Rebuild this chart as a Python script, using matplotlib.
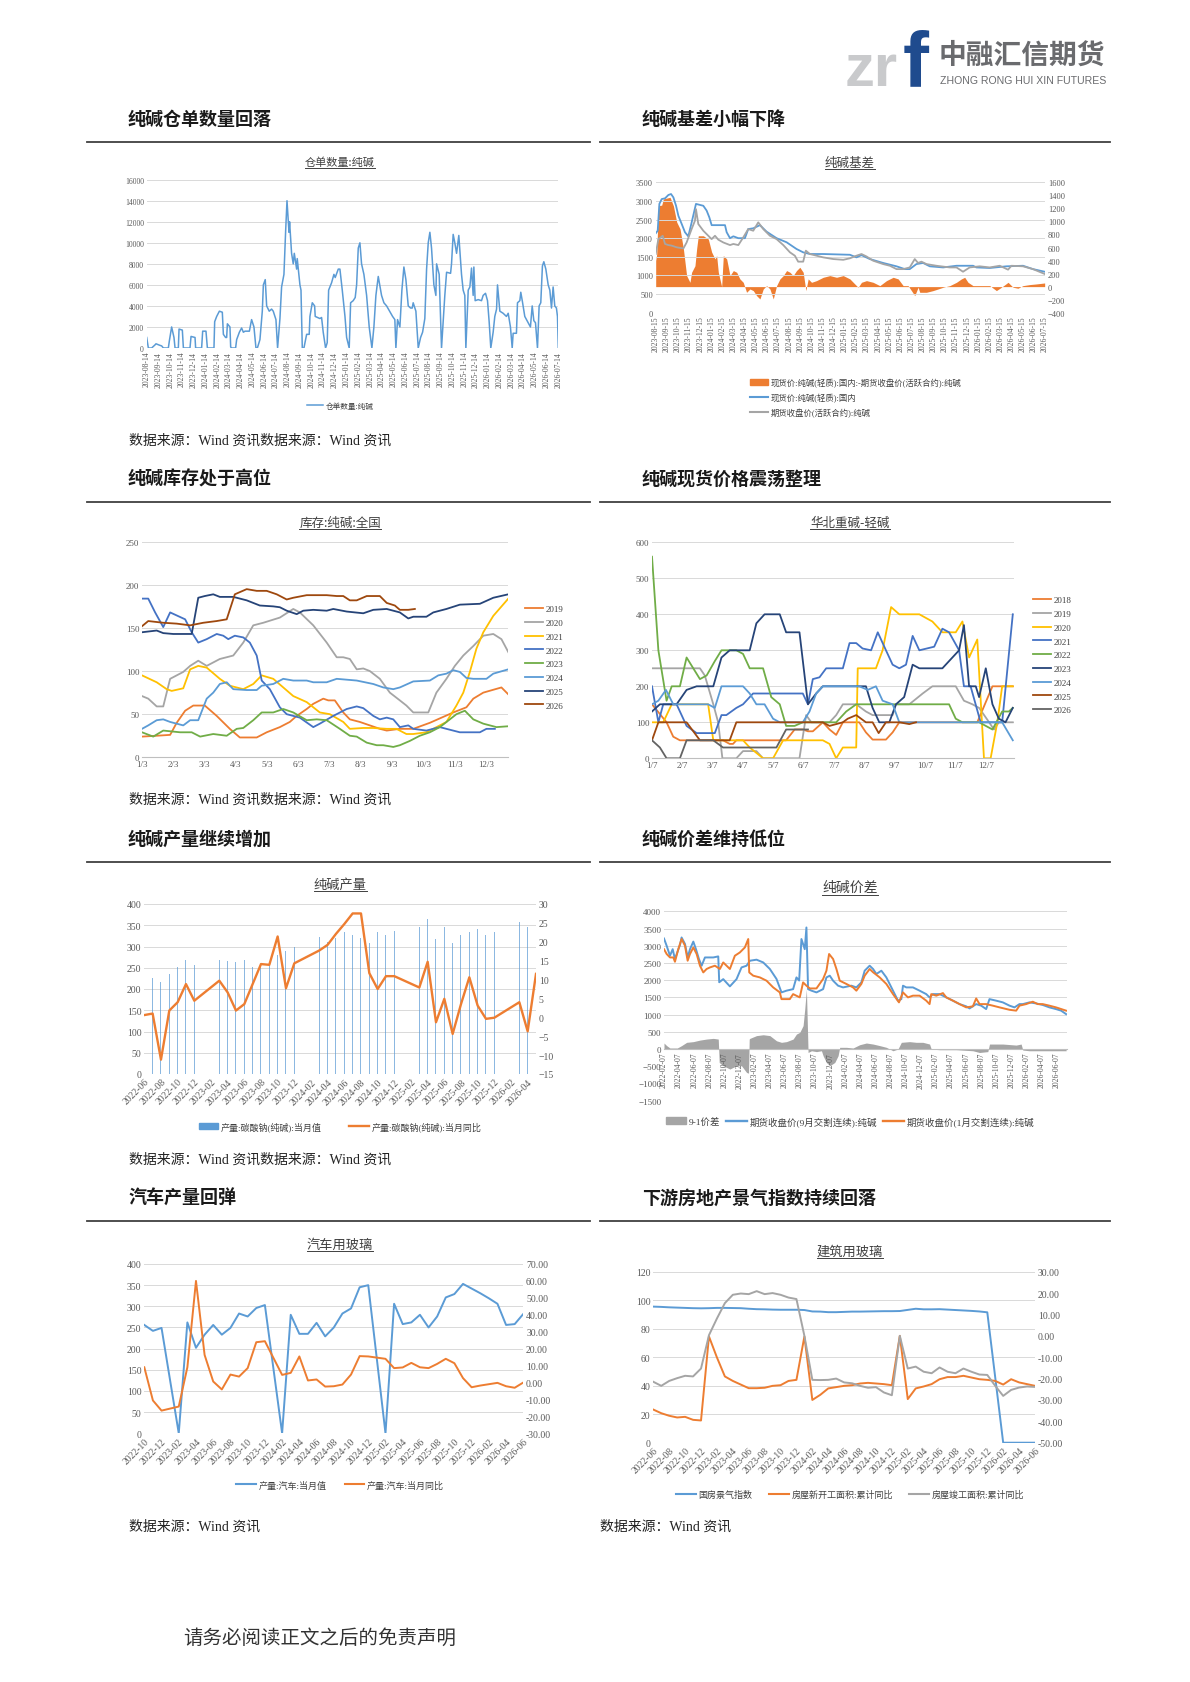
import numpy as np
import matplotlib
matplotlib.use('Agg')
import matplotlib.pyplot as plt
from matplotlib.lines import Line2D
from matplotlib.patches import Patch
import pandas as pd

plt.rcParams['font.family'] = ['Liberation Serif', 'Noto Sans CJK SC']
CJK = ['Noto Sans CJK SC', 'DejaVu Sans']

BLUE = '#5B9BD5'
ORANGE = '#ED7D31'
GRAY = '#A5A5A5'
YELLOW = '#FFC000'
BLUE2 = '#4472C4'
GREEN = '#70AD47'
NAVY = '#264478'
BROWN = '#9E480E'
DGRAY = '#636363'
TICK = '#595959'
GRID = '#D9D9D9'
nan = np.nan

# ---- chart 1: warehouse receipts (x = months after 2023-08-14) ----
wr_pts = [
    (0.00, 1000), (0.14, 0), (0.42, 0), (0.71, 300), (0.79, 400), (1.13, 250), (1.27, 200), (1.42, 0),
    (1.84, 0), (1.93, 700), (2.12, 2000), (2.32, 1000), (2.41, 0), (2.69, 0), (2.75, 1800), (3.03, 1700),
    (3.12, 0), (3.68, 0), (3.77, 1100), (4.11, 1000), (4.16, 0), (4.67, 0), (4.76, 1600), (5.04, 1600),
    (5.16, 0), (5.72, 0), (5.78, 2500), (5.95, 3000), (6.18, 3500), (6.43, 3400), (6.52, 1300), (6.71, 1000),
    (6.80, 1000), (6.86, 2300), (7.08, 2000), (7.14, 100), (7.22, 0), (7.56, 0), (7.65, 800), (7.88, 1500),
    (8.07, 1900), (8.22, 1500), (8.36, 1600), (8.73, 1600), (8.92, 2700), (9.12, 2000), (9.29, 0), (9.41, 0),
    (9.63, 800), (9.83, 3500), (9.92, 6000), (10.08, 6500), (10.20, 4000), (10.42, 3500), (10.62, 3700),
    (10.76, 3500), (10.99, 2700), (11.13, 0), (11.33, 2800), (11.47, 5800), (11.67, 7000), (11.81, 11000),
    (11.93, 14000), (12.10, 11000), (12.15, 12000), (12.32, 9000), (12.46, 8000), (12.55, 9000),
    (12.75, 7500), (12.80, 8500), (13.03, 6000), (13.12, 5500), (13.23, 0), (13.37, 0), (13.60, 1300),
    (13.82, 1300), (13.88, 3000), (14.08, 4300), (14.28, 4000), (14.33, 3000), (14.73, 2800), (14.87, 2900),
    (15.01, 1500), (15.21, 0), (15.35, 500), (15.47, 5500), (15.72, 6200), (15.92, 7000), (16.03, 6700),
    (16.29, 7500), (16.43, 7500), (16.63, 5500), (16.86, 3000), (17.00, 1000), (17.22, 0), (17.34, 4300),
    (17.56, 4500), (17.73, 4800), (17.85, 6000), (17.99, 9500), (18.13, 10000), (18.27, 8000), (18.47, 7000),
    (18.70, 5000), (18.92, 2000), (19.15, 0), (19.32, 2000), (19.49, 5000), (19.69, 6800), (19.97, 5000),
    (20.17, 4300), (20.40, 4000), (20.91, 3000), (21.10, 2700), (21.19, 0), (21.33, 2700), (21.53, 2000),
    (21.70, 5500), (21.87, 7700), (22.04, 6500), (22.24, 4000), (22.44, 3800), (22.58, 3800), (22.66, 4300),
    (22.89, 3500), (23.09, 0), (23.29, 1000), (23.46, 1500), (23.65, 2800), (23.80, 7500), (23.94, 10000),
    (24.08, 11000), (24.22, 9500), (24.42, 6000), (24.59, 5000), (24.65, 8000), (24.87, 7000), (25.07, 0),
    (25.35, 5000), (25.50, 7200), (25.84, 7100), (25.92, 8000), (26.06, 10800), (26.20, 10000),
    (26.35, 9000), (26.54, 10700), (26.77, 7000), (26.91, 5500), (27.05, 5000), (27.14, 0), (27.34, 5500),
    (27.48, 5800), (27.62, 7600), (27.76, 5000), (27.82, 7700), (27.93, 4500), (28.19, 4600), (28.47, 4500),
    (28.61, 5000), (28.81, 5200), (28.98, 4500), (29.12, 2500), (29.26, 0), (29.46, 1500), (29.60, 3000),
    (29.75, 3700), (29.83, 6000), (30.03, 3500), (30.31, 3300), (30.59, 3000), (30.74, 3300), (30.93, 2000),
    (31.08, 0), (31.16, 1400), (31.44, 1400), (31.53, 4300), (31.73, 4500), (31.81, 5300), (31.95, 4400),
    (32.15, 3000), (32.44, 2400), (32.63, 2000), (32.78, 4000), (32.92, 2600), (33.06, 2400), (33.23, 0),
    (33.37, 4000), (33.51, 4300), (33.65, 7800), (33.77, 8200), (33.94, 7500), (34.14, 6000), (34.28, 5500),
    (34.42, 3800), (34.56, 5800), (34.70, 4000), (34.84, 3800), (34.93, 3000), (35.00, 0)]
wr_dates = pd.date_range('2023-08-14', periods=36, freq=pd.DateOffset(months=1)).strftime('%Y-%m-%d')

# ---- chart 2: basis (x = months after 2023-08-15) ----
spot_pts = [
    (0, 2130), (0.18, 2200), (0.33, 2920), (0.54, 3050), (0.84, 3070), (1.14, 3160), (1.38, 3185),
    (1.59, 3095), (1.83, 2870), (2.04, 2600), (2.34, 2380), (2.63, 2160), (2.93, 2050), (3.23, 2420),
    (3.62, 2920), (4.28, 2870), (4.58, 2740), (4.82, 2560), (5.03, 2350), (6.23, 2350), (6.38, 2160),
    (6.68, 2000), (6.98, 2050), (7.43, 2000), (8.02, 2000), (8.32, 2245), (8.77, 2265), (9.37, 2350),
    (9.97, 2175), (10.87, 2000), (11.77, 1890), (12.66, 1710), (13.26, 1620), (13.86, 1575), (15.06, 1575),
    (17.46, 1555), (18.05, 1485), (18.50, 1545), (19.25, 1440), (20.45, 1335), (21.65, 1245), (22.40, 1170),
    (22.84, 1170), (23.44, 1305), (24.04, 1335), (24.64, 1245), (25.84, 1215), (27.04, 1260), (28.53, 1260),
    (28.83, 1215), (30.03, 1200), (31.53, 1245), (33.02, 1260), (33.92, 1170), (34.97, 1100)]
fut_pts = [
    (0, 1575), (0.24, 1975), (0.45, 2020), (0.63, 2065), (0.84, 1845), (1.14, 1815), (1.44, 1800),
    (1.89, 1755), (2.49, 1725), (2.78, 1885), (3.23, 2245), (3.53, 2470), (3.62, 2780), (3.83, 2380),
    (4.28, 2200), (4.73, 2065), (5.03, 1975), (5.33, 2065), (5.63, 1960), (6.08, 1885), (6.68, 1815),
    (6.98, 1845), (7.43, 1815), (7.87, 2020), (8.32, 2245), (8.77, 2200), (9.22, 2425), (9.67, 2245),
    (10.27, 2065), (10.87, 1975), (11.47, 1815), (12.07, 1620), (12.51, 1530), (12.81, 1370), (13.26, 1370),
    (13.50, 1665), (13.86, 1575), (14.46, 1530), (15.06, 1485), (15.96, 1440), (16.86, 1420), (17.46, 1460),
    (18.05, 1530), (18.50, 1575), (18.95, 1510), (19.55, 1395), (20.45, 1305), (21.05, 1260), (21.65, 1170),
    (22.25, 1170), (22.84, 1215), (23.29, 1440), (23.59, 1335), (23.89, 1370), (24.34, 1305), (25.24, 1260),
    (26.44, 1215), (27.04, 1215), (27.63, 1100), (28.23, 1215), (29.13, 1245), (30.03, 1215), (30.93, 1260),
    (31.68, 1155), (31.98, 1260), (33.02, 1245), (33.92, 1170), (34.97, 1040)]
basis_pts = [
    (0.0, 400), (0.09, 500), (0.24, 1240), (0.54, 1250), (0.69, 1345), (1.29, 1370), (1.59, 1240),
    (1.89, 990), (2.19, 885), (2.49, 580), (2.78, 170), (3.08, 66), (3.23, 220), (3.53, 320), (3.68, 580),
    (3.83, 780), (4.28, 780), (4.73, 730), (5.03, 530), (5.33, 425), (5.48, 476), (5.63, 220), (5.93, 0),
    (6.08, 476), (6.38, 425), (6.68, 169), (6.98, 246), (7.28, 220), (7.57, 118), (7.87, 66), (8.17, -87),
    (8.47, -36), (8.77, -61), (9.07, -138), (9.37, -189), (9.67, -36), (9.97, 15), (10.27, -36),
    (10.57, -189), (10.87, 15), (11.17, 118), (11.47, 169), (11.77, 246), (12.07, 220), (12.36, 169),
    (12.66, 246), (12.96, 297), (13.26, 220), (13.50, -61), (13.71, 118), (14.01, 66), (14.46, 92),
    (15.06, 143), (15.66, 169), (16.26, 143), (16.86, 169), (17.46, 118), (17.90, 41), (18.20, -10),
    (18.50, 66), (18.95, 92), (19.55, 66), (20.15, 15), (20.75, 92), (21.35, 143), (21.80, 118), (22.25, 15),
    (22.69, 15), (22.99, -61), (23.29, -138), (23.59, -10), (23.74, -87), (24.34, -87), (24.94, -61),
    (25.39, -36), (25.84, -10), (26.44, 15), (27.04, 66), (27.48, 118), (27.78, 143), (28.08, 66),
    (28.53, 15), (29.13, 15), (30.03, 15), (30.63, -61), (31.08, -10), (31.68, 66), (32.13, -10),
    (32.57, -25), (33.02, 15), (33.62, 31), (34.22, 41), (34.97, 56)]
basis_dates = pd.date_range('2023-08-15', periods=36, freq=pd.DateOffset(months=1)).strftime('%Y-%m-%d')

# ---- chart 3: inventory, seasonal (x = months after 1/3) ----
inv_2019 = [(0, 24), (0.47, 25), (0.90, 26), (1.11, 40), (1.38, 54), (1.64, 60), (2.01, 60), (2.39, 48),
            (2.81, 33), (3.13, 23), (3.67, 23), (3.99, 29), (4.41, 35), (4.73, 41), (4.95, 48), (5.27, 56),
            (5.48, 62), (5.80, 68), (5.96, 66), (6.17, 66), (6.44, 52), (6.65, 44), (6.97, 41), (7.29, 37),
            (7.61, 33), (7.83, 31), (8.25, 33), (8.68, 33), (9.21, 40), (9.96, 52), (10.38, 58), (10.60, 68),
            (10.92, 75), (11.50, 81), (11.72, 73)]
inv_2020 = [(0, 71), (0.20, 68), (0.47, 59), (0.68, 59), (0.90, 91), (1.32, 99), (1.54, 106), (1.80, 112),
            (2.07, 106), (2.28, 110), (2.49, 114), (2.92, 118), (3.24, 133), (3.56, 153), (3.88, 156),
            (4.41, 162), (4.84, 172), (5.05, 168), (5.48, 153), (5.91, 133), (6.23, 116), (6.44, 116),
            (6.65, 114), (6.87, 102), (7.08, 103), (7.29, 100), (7.61, 91), (7.93, 75), (8.25, 66), (8.46, 60),
            (8.68, 52), (9.16, 52), (9.42, 75), (9.74, 91), (10.01, 106), (10.28, 118), (10.60, 129),
            (10.92, 141), (11.24, 143), (11.50, 137), (11.72, 122)]
inv_2021 = [(0, 95), (0.47, 87), (0.79, 79), (0.95, 77), (1.32, 80), (1.54, 102), (1.80, 106), (2.07, 104),
            (2.49, 91), (2.81, 83), (3.24, 79), (3.56, 85), (3.83, 95), (4.20, 91), (4.52, 81), (4.84, 71),
            (5.27, 64), (5.69, 52), (6.01, 50), (6.44, 41), (6.65, 33), (7.08, 34), (7.40, 34), (7.83, 33),
            (8.14, 33), (8.46, 27), (8.68, 27), (9.10, 29), (9.53, 37), (9.74, 41), (10.06, 60), (10.28, 75),
            (10.49, 99), (10.70, 126), (10.92, 145), (11.24, 164), (11.72, 184)]
inv_2022 = [(0, 184), (0.20, 184), (0.42, 168), (0.68, 151), (0.90, 168), (1.38, 160), (1.59, 145),
            (1.80, 133), (2.07, 137), (2.39, 143), (2.60, 141), (2.76, 137), (2.97, 141), (3.24, 139),
            (3.45, 133), (3.67, 118), (3.83, 89), (4.09, 79), (4.41, 58), (4.63, 50), (5.05, 46), (5.48, 35),
            (5.69, 39), (6.12, 48), (6.55, 56), (6.87, 59), (7.08, 57), (7.40, 48), (7.61, 44), (7.83, 46),
            (8.04, 44), (8.25, 35), (8.52, 37), (8.68, 33), (9.10, 31), (9.53, 35), (9.74, 33), (10.17, 29),
            (10.81, 29), (11.02, 33), (11.29, 33)]
inv_2023 = [(0, 29), (0.36, 24), (0.68, 31), (1.22, 29), (1.59, 29), (1.86, 24), (2.28, 27), (2.71, 25),
            (3.03, 33), (3.24, 34), (3.56, 43), (3.83, 52), (4.20, 52), (4.52, 56), (4.84, 52), (5.27, 43),
            (5.59, 44), (5.91, 43), (6.33, 33), (6.65, 25), (6.87, 24), (7.19, 17), (7.51, 14), (7.72, 14),
            (8.04, 12), (8.25, 14), (8.57, 19), (8.89, 25), (9.21, 29), (9.53, 35), (9.85, 44), (10.06, 50),
            (10.33, 54), (10.60, 44), (10.92, 39), (11.34, 35), (11.72, 36)]
inv_2024 = [(0, 33), (0.20, 37), (0.47, 43), (0.68, 44), (0.90, 41), (1.32, 37), (1.54, 43), (1.80, 43),
            (2.07, 68), (2.28, 75), (2.49, 85), (2.71, 87), (2.92, 79), (3.35, 78), (3.67, 78), (3.83, 83),
            (4.20, 85), (4.52, 91), (4.84, 89), (5.27, 89), (5.48, 87), (5.91, 87), (6.23, 91), (6.87, 89),
            (7.40, 85), (7.72, 81), (8.04, 79), (8.25, 81), (8.68, 88), (9.21, 89), (9.48, 95), (9.74, 97),
            (9.96, 101), (10.17, 99), (10.38, 92), (10.60, 91), (11.02, 91), (11.24, 97), (11.72, 102)]
inv_2025 = [(0, 145), (0.47, 147), (0.68, 144), (1.00, 143), (1.59, 143), (1.80, 185), (2.01, 187),
            (2.28, 189), (2.49, 186), (2.92, 186), (3.35, 182), (3.77, 176), (4.20, 175), (4.41, 174),
            (4.63, 170), (4.95, 166), (5.16, 170), (5.48, 171), (5.91, 170), (6.12, 172), (6.55, 169),
            (7.08, 167), (7.40, 171), (7.83, 172), (8.25, 168), (8.52, 161), (8.68, 163), (9.10, 163),
            (9.32, 168), (9.74, 172), (10.17, 177), (10.81, 178), (11.24, 185), (11.72, 189)]
inv_2026 = [(0, 152), (0.20, 158), (0.68, 156), (1.11, 155), (1.54, 153), (1.96, 156), (2.39, 158),
            (2.71, 160), (2.97, 189), (3.35, 195), (3.67, 193), (3.99, 193), (4.31, 189), (4.63, 183),
            (4.84, 185), (5.27, 188), (5.91, 188), (6.23, 187), (6.44, 187), (6.65, 182), (6.87, 182),
            (7.19, 187), (7.61, 187), (7.83, 179), (8.09, 176), (8.25, 171), (8.52, 171), (8.73, 172)]
inv_years = ['2019', '2020', '2021', '2022', '2023', '2024', '2025', '2026']
inv_colors = [ORANGE, GRAY, YELLOW, BLUE2, GREEN, BLUE, NAVY, BROWN]

# ---- chart 4: heavy - light spread, seasonal (x = months after 1/7) ----
hl_2018 = [(0, 150), (0.48, 100), (0.70, 60), (0.92, 50), (2.34, 50), (2.56, 40), (2.67, 40), (2.78, 50),
           (4.42, 50), (4.70, 80), (4.97, 80), (5.14, 75), (5.30, 75), (5.63, 100), (5.85, 80), (6.07, 65),
           (6.29, 100), (6.83, 100), (7.05, 72), (7.27, 52), (7.71, 52), (7.93, 72), (8.15, 100),
           (10.72, 100), (11.22, 200), (11.89, 200)]
hl_2019 = [(0, 250), (1.58, 250), (1.74, 230), (2.02, 150), (2.18, 100), (2.32, 0), (2.78, 0), (3.00, 20),
           (3.44, 20), (3.66, 0), (4.86, 0), (5.08, 120), (5.25, 100), (5.85, 100), (6.07, 120), (6.29, 150),
           (6.73, 150), (7.05, 130), (7.27, 120), (7.93, 120), (8.04, 150), (8.48, 150), (8.92, 180),
           (9.24, 200), (10.01, 200), (10.28, 160), (10.56, 150), (10.78, 140), (11.11, 100), (11.27, 80),
           (11.43, 100), (11.89, 100)]
hl_2020 = [(0, 100), (0.37, 100), (0.65, 150), (1.03, 150), (1.85, 150), (2.02, 50), (2.34, 50), (3.00, 50),
           (3.22, 30), (3.66, 0), (3.99, 0), (4.32, 50), (5.63, 50), (5.85, 40), (6.07, 0), (6.29, 30),
           (6.73, 30), (6.78, 250), (7.38, 250), (7.60, 300), (7.88, 420), (8.15, 400), (8.81, 400),
           (9.24, 380), (9.57, 350), (10.01, 350), (10.23, 380), (10.45, 280), (10.72, 330), (10.94, 0),
           (11.16, 0), (11.38, 100), (11.54, 200), (11.89, 200)]
hl_2021 = [(0, 200), (0.21, 100), (0.37, 150), (0.81, 150), (1.14, 90), (1.47, 70), (2.07, 70), (2.29, 120),
           (2.45, 120), (2.78, 140), (3.00, 150), (3.33, 180), (4.97, 180), (5.14, 150), (5.30, 220),
           (5.52, 225), (5.74, 250), (6.29, 250), (6.51, 320), (6.73, 320), (6.94, 305), (7.22, 300),
           (7.44, 350), (7.71, 300), (7.93, 260), (8.15, 250), (8.37, 260), (8.59, 340), (8.81, 300),
           (9.30, 310), (9.57, 360), (9.79, 350), (10.12, 300), (10.28, 200), (10.50, 200), (10.83, 100),
           (11.54, 100), (11.89, 400)]
hl_2022 = [(0, 560), (0.21, 300), (0.48, 160), (0.65, 200), (0.92, 200), (1.14, 280), (1.58, 220),
           (1.80, 230), (2.07, 270), (2.29, 300), (2.78, 300), (3.00, 290), (3.22, 250), (3.66, 250),
           (3.93, 170), (4.21, 150), (4.42, 90), (4.70, 90), (4.97, 100), (6.07, 100), (6.40, 130),
           (6.73, 150), (9.79, 150), (10.01, 110), (10.23, 100), (10.78, 100), (11.22, 80), (11.54, 130),
           (11.76, 130), (11.89, 140)]
hl_2023 = [(0, 130), (0.26, 150), (0.81, 150), (1.14, 190), (1.47, 200), (2.02, 200), (2.29, 280),
           (2.56, 300), (3.22, 300), (3.44, 375), (3.71, 400), (4.21, 400), (4.42, 350), (4.86, 350),
           (5.14, 150), (5.41, 180), (5.63, 200), (7.05, 200), (7.27, 140), (7.49, 100), (7.82, 100),
           (8.04, 150), (8.31, 170), (8.59, 260), (8.81, 250), (9.57, 250), (9.90, 280), (10.12, 300),
           (10.28, 370), (10.45, 200), (10.67, 200), (10.78, 170), (11.00, 250), (11.22, 150), (11.43, 110),
           (11.65, 100), (11.89, 140)]
hl_2024 = [(0, 150), (0.21, 160), (0.46, 190), (0.70, 150), (1.03, 150), (1.85, 150), (2.07, 140),
           (2.29, 200), (3.00, 200), (3.22, 180), (3.44, 150), (3.71, 150), (3.99, 110), (4.21, 100),
           (4.97, 100), (5.19, 130), (5.41, 180), (5.63, 200), (6.83, 200), (7.11, 190), (7.38, 200),
           (7.60, 160), (7.93, 150), (8.15, 100), (11.54, 100), (11.89, 50)]
hl_2025 = [(0, 50), (0.21, 100), (1.14, 100), (1.58, 50), (2.56, 50), (2.78, 100), (5.63, 100), (5.85, 90),
           (6.29, 100), (6.45, 110), (6.73, 120), (7.05, 100), (7.27, 100), (7.47, 70), (7.71, 100),
           (8.15, 100), (8.48, 95), (8.70, 100)]
hl_2026 = [(0, 50), (0.26, 30), (0.48, 0), (0.92, 0), (1.14, 50), (2.02, 50), (2.34, 30), (4.10, 30),
           (4.42, 80), (5.14, 80)]
hl_years = ['2018', '2019', '2020', '2021', '2022', '2023', '2024', '2025', '2026']
hl_colors = [ORANGE, GRAY, YELLOW, BLUE2, GREEN, NAVY, BLUE, BROWN, DGRAY]

# ---- chart 5: soda ash output, monthly from 2022-06 ----
prod_val = [nan, 225, 216, 235, 251, 268, 257, nan, nan, 269, 267, 263, 269, 251, 259, 260, 280, 290, 300,
            nan, nan, 323, 310, 321, 335, 328, 320, 308, 335, 327, 336, nan, nan, 347, 365, 318, 347, 308,
            327, 335, 341, 327, 335, nan, nan, 357, 347, nan]
prod_yoy = [0.6, 1.0, -11.2, 1.8, 4.0, 8.8, 4.4, nan, nan, 9.7, 6.6, 1.8, 3.5, 8.8, 14.1, 13.9, 21.4, 7.7,
            14.3, nan, nan, 17.7, 19.2, 22.1, 24.7, 27.5, 27.5, 11.7, 7.5, 10.9, 10.9, nan, nan, 7.9, 14.7,
            -1.3, 4.9, -4.4, 3.5, 10.6, 3.1, -0.4, -0.1, nan, nan, 4.0, -3.7, 11.5]
prod_labels = pd.date_range('2022-06-01', periods=24, freq=pd.DateOffset(months=2)).strftime('%Y-%m')

# ---- chart 6: futures spread (x = months after 2022-02-07) ----
c9_pts = [
    (0, 3210), (0.35, 3000), (0.79, 2710), (1.15, 2900), (1.45, 2610), (1.76, 2810), (2.11, 3020),
    (2.33, 3240), (2.78, 3050), (3.13, 2660), (3.44, 2900), (3.88, 3120), (4.23, 2900), (4.63, 2610),
    (4.98, 2420), (5.42, 2660), (6.52, 2660), (7.18, 2690), (7.31, 1940), (7.84, 2030), (8.72, 1820),
    (9.60, 2030), (10.26, 2370), (10.93, 2420), (11.37, 2565), (12.25, 2595), (13.13, 2515), (14.01, 2325),
    (14.89, 2035), (15.55, 1645), (16.21, 1695), (17.09, 1740), (17.53, 2080), (17.89, 1990), (18.19, 3195),
    (18.63, 2900), (18.85, 3530), (19.07, 1740), (19.52, 1695), (20.18, 1645), (21.06, 1740), (21.50, 2080),
    (21.94, 2130), (22.38, 1985), (23.04, 1840), (23.70, 1790), (24.80, 1840), (25.46, 1790), (26.12, 1935),
    (26.56, 2275), (27.22, 2420), (27.67, 2325), (28.11, 2180), (28.77, 2275), (29.43, 2080), (30.31, 1695),
    (30.97, 1405), (31.41, 1450), (31.63, 1840), (32.07, 1790), (32.95, 1790), (33.83, 1695), (34.71, 1595),
    (35.15, 1500), (35.59, 1595), (36.48, 1595), (37.36, 1500), (38.24, 1405), (39.12, 1305), (40.00, 1240),
    (40.44, 1180), (41.32, 1305), (41.98, 1260), (42.64, 1160), (43.08, 1450), (43.96, 1405), (44.85, 1355),
    (45.73, 1260), (46.39, 1210), (47.05, 1305), (47.49, 1305), (48.37, 1355), (49.25, 1325), (50.13, 1280),
    (51.01, 1210), (51.89, 1160), (52.56, 1115), (53.22, 1015)]
c1_pts = [
    (0, 2900), (0.35, 2760), (0.79, 2660), (1.23, 2660), (1.45, 2535), (1.89, 2900), (2.33, 3195),
    (2.78, 3000), (3.13, 2565), (3.44, 2760), (3.88, 2950), (4.32, 2760), (4.76, 2420), (5.20, 2225),
    (5.64, 2325), (6.08, 2370), (6.74, 2420), (7.40, 2325), (7.84, 2515), (8.28, 2420), (8.72, 2325),
    (9.38, 2710), (10.04, 2805), (10.70, 2950), (11.15, 3195), (11.28, 2225), (11.81, 2130), (12.69, 2080),
    (13.57, 1985), (14.45, 1790), (15.33, 1645), (15.55, 1450), (16.65, 1450), (17.09, 1595), (17.97, 1500),
    (18.41, 1935), (18.85, 1840), (19.30, 1760), (20.18, 1760), (21.06, 2035), (21.50, 2275), (21.85, 2760),
    (22.38, 2615), (22.82, 2325), (23.26, 1985), (24.14, 1890), (25.02, 1790), (25.46, 1695), (26.12, 1890),
    (26.56, 2130), (27.22, 2325), (27.67, 2230), (28.55, 2080), (29.43, 1890), (30.31, 1595), (31.10, 1355),
    (31.63, 1645), (32.29, 1500), (32.95, 1550), (33.83, 1550), (34.71, 1405), (35.15, 1305), (35.37, 1595),
    (36.04, 1550), (36.92, 1625), (37.36, 1500), (38.24, 1405), (39.12, 1305), (40.00, 1210), (40.88, 1240),
    (41.32, 1470), (41.76, 1305), (42.64, 1305), (43.52, 1260), (44.41, 1210), (45.73, 1140), (46.61, 1115),
    (47.05, 1260), (47.93, 1305), (48.81, 1375), (49.47, 1305), (50.13, 1305), (51.01, 1260), (51.89, 1210),
    (53.22, 1115)]
spread_pts = [
    (0, 175), (0.35, 100), (0.79, 30), (1.76, 30), (2.33, 100), (3.00, 195), (3.88, 215), (4.76, 260),
    (5.64, 290), (6.52, 310), (7.18, 290), (7.31, -390), (7.84, -485), (8.72, -580), (9.60, -485),
    (10.26, -485), (10.93, -680), (11.19, -700), (11.28, 290), (11.37, 310), (12.25, 390), (13.13, 415),
    (14.01, 390), (14.89, 240), (15.55, 195), (16.21, 215), (17.09, 290), (17.53, 435), (17.97, 485),
    (18.41, 680), (18.63, 1160), (18.85, 1740), (19.07, -100), (19.52, -50), (20.18, -75), (20.84, -50),
    (21.06, -195), (21.50, -390), (21.94, -485), (22.60, -390), (23.04, -195), (23.26, 50), (24.14, 50),
    (25.02, 30), (25.90, 125), (26.78, 175), (27.67, 145), (28.55, 100), (29.43, 50), (30.31, -50),
    (30.97, 0), (31.41, 195), (32.51, 215), (33.39, 195), (34.27, 195), (35.15, 145), (35.37, 0),
    (36.48, -20), (38.68, -20), (40.88, -50), (41.76, -100), (42.86, -75), (43.08, 145), (44.85, 145),
    (46.61, 115), (47.27, 145), (47.49, -30), (48.37, -50), (50.13, -50), (53.22, -50)]
spread_dates = pd.date_range('2022-02-07', periods=27, freq=pd.DateOffset(months=2)).strftime('%Y-%m-%d')

# ---- chart 7: auto glass, monthly from 2022-10 ----
auto_val = [256, 242, 249, nan, 0, 262, 202, 233, 256, 233, 249, 283, 276, 296, 303, nan, 0, 280, 235, 235,
            261, 229, 250, 283, 295, 345, 350, nan, 0, 306, 258, 262, 280, 250, 276, 321, 329, 353, 342, 331,
            319, 306, 256, 258, 282]
auto_yoy = [9, -10.6, -16.6, nan, -14.2, 9, 60, 16.3, 0.6, -4.1, 4.7, 3.5, 8.5, 23.8, 24.4, nan, 4.5, 5.7,
            15.4, 1.2, 1.8, -2.4, -2.2, -1.2, 4.7, 15.6, 15.4, nan, 14, 8.5, 8.9, 11.6, 9, 8.5, 11, 14, 11.4,
            2.6, -2.8, -1.8, -1, -0.2, -2.2, -3.1, 0]
auto_labels = pd.date_range('2022-10-01', periods=23, freq=pd.DateOffset(months=2)).strftime('%Y-%m')

# ---- chart 8: construction glass, monthly from 2022-06 ----
re_index = [95.5, 95.3, 95.0, 94.8, 94.6, 94.4, 94.3, 94.4, 94.6, 94.6, 94.5, 94.4,
            94.0, 93.7, 93.6, 93.4, 93.3, 93.3, 93.3, 93.1, 92.1, 92.0, 91.6, 91.6,
            91.8, 92.0, 92.0, 92.1, 92.2, 92.3, 92.3, 92.4, 93.2, 94.0, 93.6, 93.6,
            93.7, 93.4, 93.1, 92.8, 92.5, 92.1, 91.5, nan, 0, 0, 0, 0, 0]
new_start = [-34.5, -36.2, -37.4, -38.2, -37.9, -39.3, -39.6, -0.3, -10.1, -19, -21.1, -22.8,
             -24.5, -24.5, -24.3, -23.4, -23.1, -21.1, -20.6, -0.3, -30, -27.6, -24.6, -24,
             -23.4, -23.1, -22.3, -22, -22.3, -22.6, -23.1, 0, -29.6, -24.6, -23.7, -22.6,
             -20.3, -19.3, -19.3, -18.7, -19.5, -20.3, -20.6, -21.1, -22.8, -20.3, -21.8, -22.6, -23.4]
completed = [-21.5, -23.4, -21.1, -19.8, -18.7, -19, -15.3, 0.3, 8.1, 15.3, 19.2, 19.8,
             19.5, 20.9, 19.5, 20, 19.2, 17.9, 17.2, 0, -20.6, -20.7, -20.6, -20,
             -21.8, -22.2, -23.4, -24.3, -24, -26.5, -27.8, 0, -15.3, -14.4, -16.8, -17.5,
             -14.8, -16.8, -17.5, -15.3, -16.8, -18.1, -18.3, -23.4, -28.1, -25.3, -24.2, -23.7, -23.9]
build_labels = pd.date_range('2022-06-01', periods=25, freq=pd.DateOffset(months=2)).strftime('%Y-%m')


W, H = 1190, 1683
fig = plt.figure(figsize=(W / 100, H / 100), dpi=100)
titles = []


def new_ax(l, t, r, b):
    ax = fig.add_axes([l / W, 1 - b / H, (r - l) / W, (b - t) / H])
    for s in ax.spines.values():
        s.set_visible(False)
    ax.tick_params(length=0, colors=TICK, pad=2)
    return ax


def twin(ax):
    ax2 = ax.twinx()
    for s in ax2.spines.values():
        s.set_visible(False)
    ax2.tick_params(length=0, colors=TICK, pad=2)
    return ax2


def yaxis(ax, lo, hi, step, fs, fmt=None, grid=True):
    ticks = np.arange(lo, hi + step / 2, step)
    ax.set_ylim(lo, hi)
    ax.set_yticks(ticks)
    if fmt:
        ax.set_yticklabels([fmt.format(v) for v in ticks])
    ax.tick_params(axis='y', labelsize=fs)
    if grid:
        ax.grid(axis='y', color=GRID, lw=0.7)
        ax.set_axisbelow(True)


def chart_title(x, y, s, fs):
    t = fig.text(x / W, 1 - y / H, s, ha='center', va='center', fontsize=fs,
                 family=CJK, color='#404040')
    titles.append(t)


def heading(x, y, s):
    fig.text(x / W, 1 - y / H, s, ha='left', va='center', fontsize=13, family=CJK,
             weight='bold', color='#1a1a1a')


def divider(x0, x1, y):
    fig.add_artist(Line2D([x0 / W, x1 / W], [1 - y / H] * 2, color='#404040', lw=1.3))


def source(x, y, s):
    fig.text(x / W, 1 - y / H, s, ha='left', va='center', fontsize=10, color='#222222')


def legend(ax, handles, labels, x, y, fs, loc='center', hl=2.2, **kw):
    ax.legend(handles, labels, loc=loc, bbox_to_anchor=(x / W, 1 - y / H),
              bbox_transform=fig.transFigure, frameon=False, fontsize=fs,
              handlelength=hl, handletextpad=0.3, labelcolor='#404040', **kw)


def pts(p):
    x, y = zip(*p)
    return np.array(x), np.array(y)


# ---- page furniture ----
fig.text(845 / W, 1 - 86 / H, 'zr', fontsize=43, weight='bold', family='Liberation Sans',
         color='#C9CACC', ha='left', va='baseline')
fig.text(903 / W, 1 - 86 / H, 'f', fontsize=56, weight='bold', family='Liberation Sans',
         color='#1F4B8E', ha='left', va='baseline')
fig.text(939 / W, 1 - 56 / H, '中融汇信期货', fontsize=20, weight='bold', family=CJK,
         color='#6A6B6E', ha='left', va='center')
fig.text(940 / W, 1 - 81 / H, 'ZHONG RONG HUI XIN FUTURES', fontsize=7.6, family='Liberation Sans',
         color='#6A6B6E', ha='left', va='center')

heads = [('纯碱仓单数量回落', '纯碱基差小幅下降'), ('纯碱库存处于高位', '纯碱现货价格震荡整理'),
         ('纯碱产量继续增加', '纯碱价差维持低位'), ('汽车产量回弹', '下游房地产景气指数持续回落')]
row_y = [119, 479, 839, 1198]
for (lh, rh), y in zip(heads, row_y):
    heading(128, y, lh)
    heading(642, y, rh)
    divider(87, 590, y + 24)
    divider(600, 1110, y + 24)

for y in [441, 800, 1160]:
    source(129, y, '数据来源：Wind 资讯数据来源：Wind 资讯')
source(129, 1527, '数据来源：Wind 资讯')
source(600, 1527, '数据来源：Wind 资讯')
fig.text(183 / W, 1 - 1638 / H, '请务必阅读正文之后的免责声明', fontsize=14, family=CJK,
         color='#333333', ha='left', va='center')

# ---- chart 1 ----
ax = new_ax(146.7, 180.7, 558.3, 349)
m, v = pts(wr_pts)
ax.plot(m, v, color=BLUE, lw=1.1)
ax.set_xlim(0, 35)
ax.set_xticks(range(36))
ax.set_xticklabels(wr_dates, rotation=90, fontsize=5.5)
yaxis(ax, 0, 16000, 2000, 5.5)
chart_title(340, 163, '仓单数量:纯碱', 8)
legend(ax, [Line2D([], [], color=BLUE, lw=1.1)], ['仓单数量:纯碱'], 340, 407, 5.5)

# ---- chart 2 ----
ax = new_ax(655.7, 183.3, 1045, 313.7)
ax2 = twin(ax)
m, v = pts(basis_pts)
ax2.fill_between(m, 0, v, color=ORANGE, lw=0)
yaxis(ax2, -400, 1600, 200, 6, grid=False)
ax.set_zorder(ax2.get_zorder() + 1)
ax.patch.set_visible(False)
m, v = pts(spot_pts)
ax.plot(m, v, color=BLUE, lw=1.3)
m, v = pts(fut_pts)
ax.plot(m, v, color=GRAY, lw=1.3)
ax.set_xlim(0, 35)
ax.set_xticks(range(36))
ax.set_xticklabels(basis_dates, rotation=90, fontsize=5.5)
yaxis(ax, 0, 3500, 500, 6)
chart_title(850, 163, '纯碱基差', 9)
legend(ax, [Patch(color=ORANGE), Line2D([], [], color=BLUE, lw=1.5), Line2D([], [], color=GRAY, lw=1.5)],
       ['现货价:纯碱(轻质):国内:-期货收盘价(活跃合约):纯碱', '现货价:纯碱(轻质):国内', '期货收盘价(活跃合约):纯碱'],
       742, 371, 6, loc='upper left', labelspacing=0.7)

# ---- chart 3 ----
ax = new_ax(142, 542.7, 508.3, 758.3)
for yr, p, c in zip(inv_years, [inv_2019, inv_2020, inv_2021, inv_2022, inv_2023, inv_2024, inv_2025, inv_2026],
                    inv_colors):
    m, v = pts(p)
    ax.plot(m, v, color=c, lw=1.3, label=yr)
ax.set_xlim(0, 11.72)
ax.set_xticks(range(12))
ax.set_xticklabels([f'{i}/3' for i in range(1, 13)], fontsize=6.5)
yaxis(ax, 0, 250, 50, 6.5)
ax.spines['bottom'].set_visible(True)
ax.spines['bottom'].set_color('#BFBFBF')
chart_title(340, 523, '库存:纯碱:全国', 9)
h, l = ax.get_legend_handles_labels()
legend(ax, h, l, 517, 598, 6.5, loc='upper left', hl=2, labelspacing=0.6)

# ---- chart 4 ----
ax = new_ax(652, 543.3, 1014, 759.3)
for yr, p, c in zip(hl_years, [hl_2018, hl_2019, hl_2020, hl_2021, hl_2022, hl_2023, hl_2024, hl_2025, hl_2026],
                    hl_colors):
    m, v = pts(p)
    ax.plot(m, v, color=c, lw=1.3, label=yr)
ax.set_xlim(0, 11.93)
ax.set_xticks(range(12))
ax.set_xticklabels([f'{i}/7' for i in range(1, 13)], fontsize=6.5)
yaxis(ax, 0, 600, 100, 6.5)
ax.spines['bottom'].set_visible(True)
ax.spines['bottom'].set_color('#BFBFBF')
chart_title(850, 523, '华北重碱-轻碱', 9)
h, l = ax.get_legend_handles_labels()
legend(ax, h, l, 1025, 589, 6.5, loc='upper left', hl=2, labelspacing=0.6)

# ---- chart 5 ----
ax = new_ax(144.3, 905, 536, 1075)
x = np.arange(len(prod_val))
ax.bar(x, prod_val, width=0.12, color=BLUE, alpha=0.7)
yaxis(ax, 0, 400, 50, 7)
ax2 = twin(ax)
yy = np.array(prod_yoy)
ok = ~np.isnan(yy)
ax2.plot(x[ok], yy[ok], color=ORANGE, lw=1.7)
yaxis(ax2, -15, 30, 5, 7, grid=False)
ax.set_xlim(0, 47)
ax.set_xticks(range(0, 48, 2))
ax.set_xticklabels(prod_labels, rotation=45, ha='right', rotation_mode='anchor', fontsize=7)
chart_title(340, 885, '纯碱产量', 9.5)
legend(ax, [Patch(color=BLUE), Line2D([], [], color=ORANGE, lw=1.7)],
       ['产量:碳酸钠(纯碱):当月值', '产量:碳酸钠(纯碱):当月同比'], 340, 1127, 6.5, ncol=2, columnspacing=3)

# ---- chart 6 ----
ax = new_ax(664, 912.3, 1066.7, 1101.7)
m, v = pts(spread_pts)
ax.fill_between(m, 0, v, color='#A5A5A5', lw=0)
m, v = pts(c9_pts)
ax.plot(m, v, color=BLUE, lw=1.4)
m, v = pts(c1_pts)
ax.plot(m, v, color=ORANGE, lw=1.4)
yaxis(ax, -1500, 4000, 500, 6.5, grid=False)
for t in np.arange(500, 4001, 500):
    ax.axhline(t, color=GRID, lw=0.7, zorder=0)
ax.spines['bottom'].set_visible(True)
ax.spines['bottom'].set_position(('data', 0))
ax.spines['bottom'].set_color('#BFBFBF')
ax.set_xlim(0, 53.3)
ax.set_xticks(range(0, 53, 2))
ax.set_xticklabels(spread_dates, rotation=90, fontsize=5.5)
chart_title(850, 888, '纯碱价差', 10)
legend(ax, [Patch(color='#A5A5A5'), Line2D([], [], color=BLUE, lw=1.7), Line2D([], [], color=ORANGE, lw=1.7)],
       ['9-1价差', '期货收盘价(9月交割连续):纯碱', '期货收盘价(1月交割连续):纯碱'], 850, 1122, 6.8,
       ncol=3, columnspacing=0.6)

# ---- chart 7 ----
ax = new_ax(144.3, 1265, 523.3, 1434.3)
x = np.arange(len(auto_val))
yv = np.array(auto_val)
ok = ~np.isnan(yv)
ax.plot(x[ok], yv[ok], color=BLUE, lw=1.4)
yaxis(ax, 0, 400, 50, 7)
ax2 = twin(ax)
yy = np.array(auto_yoy)
ok = ~np.isnan(yy)
ax2.plot(x[ok], yy[ok], color=ORANGE, lw=1.4)
yaxis(ax2, -30, 70, 10, 7, fmt='{:.2f}', grid=False)
ax.set_xlim(0, 44)
ax.set_xticks(range(0, 45, 2))
ax.set_xticklabels(auto_labels, rotation=45, ha='right', rotation_mode='anchor', fontsize=7)
chart_title(340, 1245, '汽车用玻璃', 9.5)
legend(ax, [Line2D([], [], color=BLUE, lw=1.5), Line2D([], [], color=ORANGE, lw=1.5)],
       ['产量:汽车:当月值', '产量:汽车:当月同比'], 340, 1486, 6.5, ncol=2, columnspacing=2)

# ---- chart 8 ----
ax = new_ax(653.3, 1272.7, 1035, 1443.7)
x = np.arange(len(re_index))
yv = np.array(re_index)
ok = ~np.isnan(yv)
ax.plot(x[ok], yv[ok], color=BLUE, lw=1.4)
yaxis(ax, 0, 120, 20, 7)
ax2 = twin(ax)
ax2.plot(x, new_start, color=ORANGE, lw=1.4)
ax2.plot(x, completed, color=GRAY, lw=1.4)
yaxis(ax2, -50, 30, 10, 7, fmt='{:.2f}', grid=False)
ax.set_xlim(0, 48)
ax.set_xticks(range(0, 49, 2))
ax.set_xticklabels(build_labels, rotation=45, ha='right', rotation_mode='anchor', fontsize=7)
chart_title(850, 1252, '建筑用玻璃', 9.5)
legend(ax, [Line2D([], [], color=BLUE, lw=1.5), Line2D([], [], color=ORANGE, lw=1.5),
            Line2D([], [], color=GRAY, lw=1.5)],
       ['国房景气指数', '房屋新开工面积:累计同比', '房屋竣工面积:累计同比'], 850, 1495, 6.5,
       ncol=3, columnspacing=1.8)

# underline the chart titles
fig.canvas.draw()
r = fig.canvas.get_renderer()
for t in titles:
    bb = t.get_window_extent(r)
    fig.add_artist(Line2D([bb.x0 / W, bb.x1 / W], [(bb.y0 - 0.5) / H] * 2, color='#404040', lw=0.7))

fig.savefig('out.png', dpi=100, facecolor='white')
